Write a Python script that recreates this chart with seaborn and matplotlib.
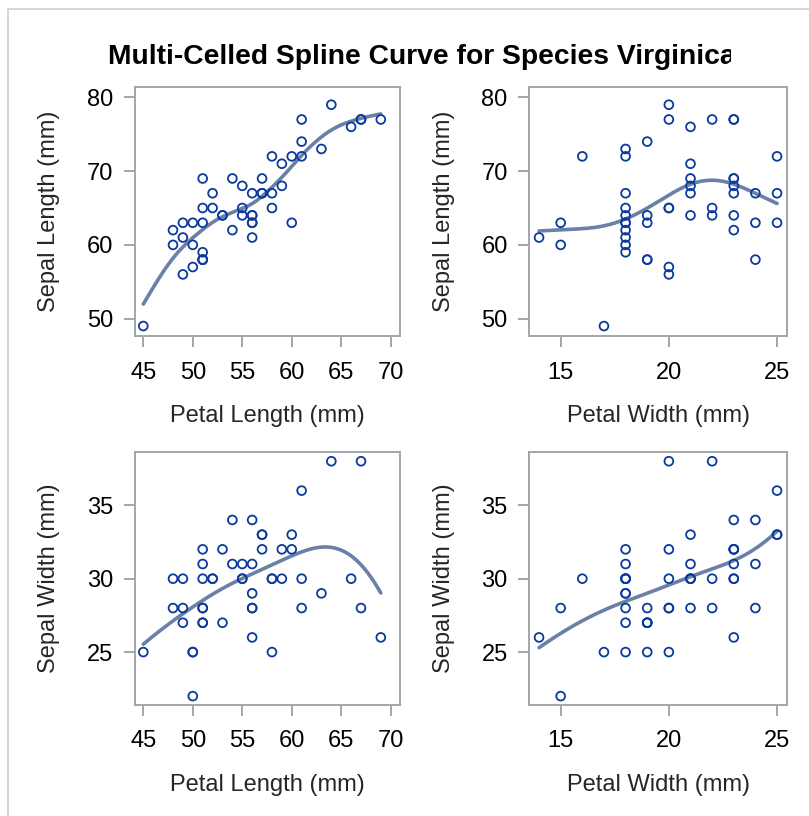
import numpy as np
import pandas as pd
import matplotlib
matplotlib.use("Agg")
import matplotlib.pyplot as plt
import seaborn as sns
from matplotlib.transforms import Bbox
from matplotlib.patches import Rectangle

# Iris virginica measurements (mm)
sepal_length = [63, 58, 71, 63, 65, 76, 49, 73, 67, 72, 65, 64, 68, 57, 58, 64, 65, 77, 77, 60,
                69, 56, 77, 63, 67, 72, 62, 61, 64, 72, 74, 79, 64, 63, 61, 77, 63, 64, 60, 69,
                67, 69, 58, 68, 67, 67, 63, 65, 62, 59]
sepal_width = [33, 27, 30, 29, 30, 30, 25, 29, 25, 36, 32, 27, 30, 25, 28, 32, 30, 38, 26, 22,
               32, 28, 28, 27, 33, 32, 28, 30, 28, 30, 28, 38, 28, 28, 26, 30, 34, 31, 30, 31,
               31, 31, 27, 32, 33, 30, 25, 30, 34, 30]
petal_length = [60, 51, 59, 56, 58, 66, 45, 63, 58, 61, 51, 53, 55, 50, 51, 53, 55, 67, 69, 50,
                57, 49, 67, 49, 57, 60, 48, 49, 56, 58, 61, 64, 56, 51, 56, 61, 56, 55, 48, 54,
                56, 51, 51, 59, 57, 52, 50, 52, 54, 51]
petal_width = [25, 19, 21, 18, 22, 21, 17, 18, 18, 25, 20, 19, 21, 20, 24, 23, 18, 22, 23, 15,
               23, 20, 20, 18, 21, 18, 18, 18, 21, 16, 19, 20, 22, 15, 14, 23, 24, 18, 18, 21,
               24, 23, 19, 23, 25, 23, 19, 20, 23, 18]

title = "Multi-Celled Spline Curve for Species Virginica"
length_ticks_x = [45, 50, 55, 60, 65, 70]
width_ticks_x = [15, 20, 25]
sl_ticks = [50, 60, 70, 80]
sw_ticks = [25, 30, 35]

df = pd.DataFrame({"SepalLength": sepal_length, "SepalWidth": sepal_width,
                   "PetalLength": petal_length, "PetalWidth": petal_width})


def bbasis(x, xl, xr, nseg=100, deg=3):
    x = np.asarray(x, float)
    dx = (xr - xl) / nseg
    knots = xl + dx * np.arange(-deg, nseg + deg + 1)
    B = np.zeros((len(x), len(knots) - 1))
    for i in range(len(knots) - 1):
        B[:, i] = (x >= knots[i] - 1e-9) & (x < knots[i + 1] - 1e-9)
    for d in range(1, deg + 1):
        Bn = np.zeros((len(x), B.shape[1] - 1))
        for i in range(B.shape[1] - 1):
            left = (x - knots[i]) / (knots[i + d] - knots[i]) * B[:, i]
            right = (knots[i + d + 1] - x) / (knots[i + d + 1] - knots[i + 1]) * B[:, i + 1]
            Bn[:, i] = left + right
        B = Bn
    return B


def pspline(x, y, edf, pord=3, nseg=100, deg=3):
    """Penalized B-spline smoother; smoothing set by effective degrees of freedom."""
    x = np.asarray(x, float)
    y = np.asarray(y, float)
    xl, xr = x.min(), x.max()
    B = bbasis(x, xl, xr, nseg, deg)
    D = np.diff(np.eye(B.shape[1]), n=pord, axis=0)
    BtB, Bty, P = B.T @ B, B.T @ y, D.T @ D
    best = None
    for lam in 10 ** np.linspace(-2, 10, 481):
        A = BtB + lam * P
        tr = np.trace(np.linalg.solve(A, BtB))
        if best is None or abs(tr - edf) < best[0]:
            best = (abs(tr - edf), np.linalg.solve(A, Bty))
    xs = np.linspace(xl, xr, 300)
    return xs, bbasis(xs, xl, xr, nseg, deg) @ best[1]


sns.set_theme(style="white")
plt.rcParams["font.family"] = ["Liberation Sans", "DejaVu Sans"]

W, H = 809, 816
fig = plt.figure(figsize=(W / 100, H / 100), dpi=100)
fig.patch.set_facecolor("white")

spine_c = "#a2a6aa"
mark_c = "#0b3a9e"
fit_c = "#6a80a6"

left_col = (134.7, 400.0)
right_col = (529.3, 787.0)
top_row = (87.3, 336.0)
bot_row = (452.0, 704.5)

panels = [
    (left_col, top_row, "PetalLength", "SepalLength", "Petal Length (mm)", "Sepal Length (mm)",
     length_ticks_x, sl_ticks, (44.13, 70.94), (47.65, 81.36), 5.5, 2),
    (right_col, top_row, "PetalWidth", "SepalLength", "Petal Width (mm)", "Sepal Length (mm)",
     width_ticks_x, sl_ticks, (13.55, 25.46), (47.65, 81.36), 5.0, 3),
    (left_col, bot_row, "PetalLength", "SepalWidth", "Petal Length (mm)", "Sepal Width (mm)",
     length_ticks_x, sw_ticks, (44.13, 70.94), (21.43, 38.63), 4.5, 3),
    (right_col, bot_row, "PetalWidth", "SepalWidth", "Petal Width (mm)", "Sepal Width (mm)",
     width_ticks_x, sw_ticks, (13.55, 25.46), (21.43, 38.63), 4.5, 3),
]

for (cx, ry, xv, yv, xl, yl, xt, yt, xlim, ylim, edf, pord) in panels:
    ax = fig.add_axes([cx[0] / W, 1 - ry[1] / H, (cx[1] - cx[0]) / W, (ry[1] - ry[0]) / H])
    xs, fit = pspline(df[xv], df[yv], edf, pord)
    sns.lineplot(x=xs, y=fit, ax=ax, color=fit_c, linewidth=2.6, zorder=2, sort=False)
    sns.scatterplot(data=df, x=xv, y=yv, ax=ax, marker="o", s=40, facecolor="none",
                    edgecolor=mark_c, linewidth=1.3, zorder=3)
    ax.set_xlim(*xlim)
    ax.set_ylim(*ylim)
    ax.set_xticks(xt)
    ax.set_yticks(yt)
    ax.set_xlabel(xl, fontsize=17, labelpad=15.5)
    ax.set_ylabel(yl, fontsize=17, labelpad=19)
    for s in ax.spines.values():
        s.set_visible(True)
        s.set_color(spine_c)
        s.set_linewidth(1.4)
    ax.tick_params(axis="both", which="major", direction="out", length=8, width=1.4,
                   color=spine_c, labelsize=17, labelcolor="black",
                   bottom=True, left=True, top=False, right=False)
    ax.tick_params(axis="x", pad=10.4)
    ax.tick_params(axis="y", pad=7.6)
    ax.grid(False)
    ax.set_facecolor("white")

t = fig.text(422 / W, 1 - 57 / H, title, ha="center", va="center", fontsize=20.3,
             fontweight="bold", color="black")
t.set_clip_box(Bbox([[0, 0], [731, H]]))
t.set_clip_on(True)

fig.add_artist(Rectangle((8 / W, -0.1), 1.2, (1 - 9 / H) + 0.1, transform=fig.transFigure,
                         fill=False, edgecolor="#d4d4d4", linewidth=1.3))

fig.savefig("out.png", dpi=100, facecolor="white")
